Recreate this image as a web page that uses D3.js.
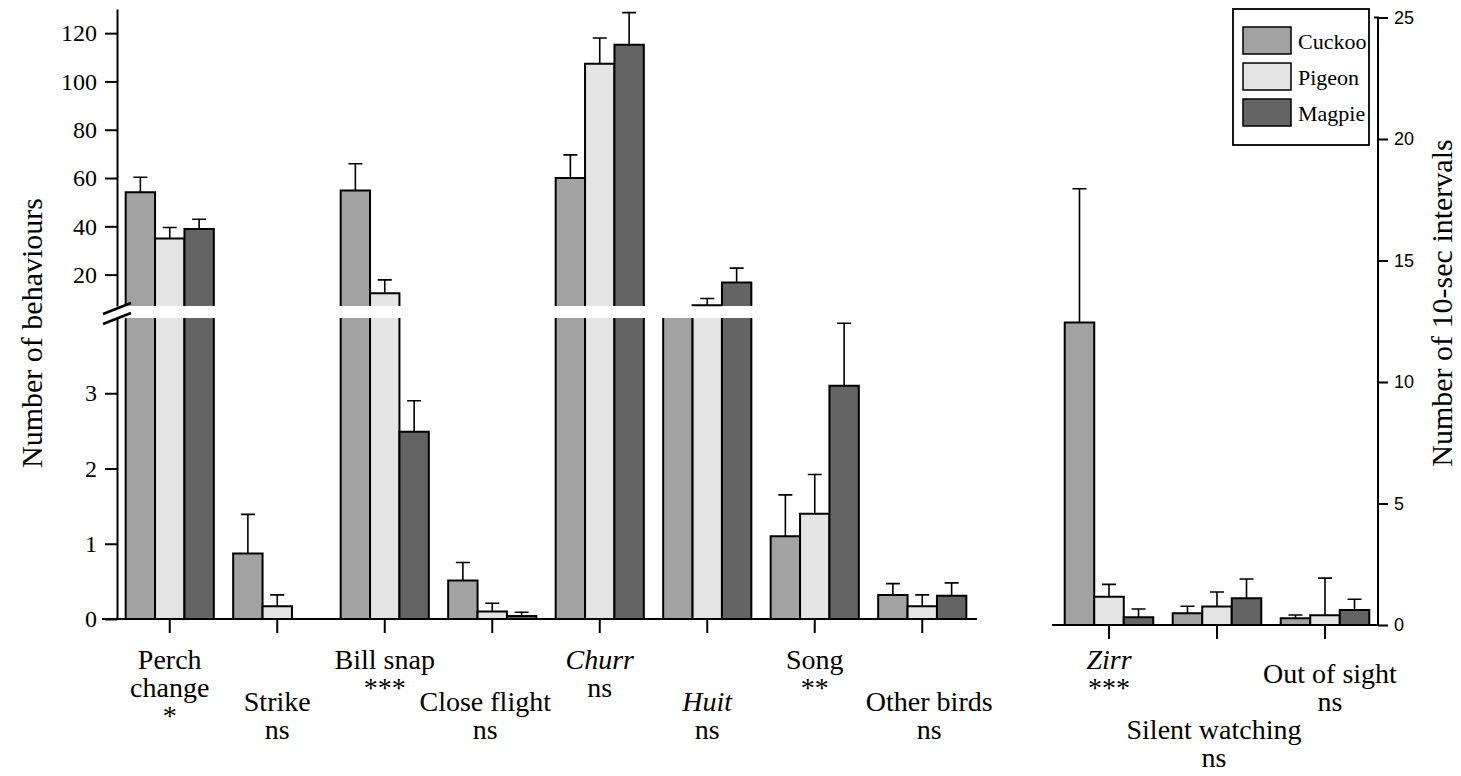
<!DOCTYPE html>
<html><head><meta charset="utf-8">
<script src="https://cdn.jsdelivr.net/npm/d3@7"></script>
<style>body{margin:0;background:#fff}svg{display:block}</style>
</head><body><svg id="c" width="1461" height="776"></svg>
<script>
// ---------------- data ----------------
const seriesNames = ["Cuckoo", "Pigeon", "Magpie"];
const categoriesLeft = ["Perch change", "Strike", "Bill snap", "Close flight", "Churr", "Huit", "Song", "Other birds"];
const categoriesRight = ["Zirr", "Silent watching", "Out of sight"];
const sigLeft = ["*", "ns", "***", "ns", "ns", "ns", "**", "ns"];
const sigRight = ["***", "ns", "ns"];

const cuckooLeft = [54.1, 0.87, 54.8, 0.51, 60.0, 6.0, 1.1, 0.32];
const cuckooLeftErr = [6.2, 0.52, 11.1, 0.24, 9.6, 0, 0.55, 0.15];
const pigeonLeft = [35.0, 0.17, 12.3, 0.1, 107.3, 7.3, 1.4, 0.17];
const pigeonLeftErr = [4.5, 0.15, 5.5, 0.11, 10.7, 2.8, 0.52, 0.15];
const magpieLeft = [38.9, 0, 2.49, 0.04, 115.2, 16.7, 3.1, 0.31];
const magpieLeftErr = [4.0, 0, 0.41, 0.05, 13.3, 6.0, 0.83, 0.17];

const cuckooRight = [12.45, 0.48, 0.28];
const cuckooRightErr = [5.5, 0.29, 0.13];
const pigeonRight = [1.16, 0.76, 0.4];
const pigeonRightErr = [0.51, 0.6, 1.53];
const magpieRight = [0.32, 1.1, 0.62];
const magpieRightErr = [0.34, 0.79, 0.44];

const leftTicksLow = [0, 1, 2, 3];
const leftTicksUp = [20, 40, 60, 80, 100, 120];
const rightTicks = [0, 5, 10, 15, 20, 25];
const yTitleLeft = "Number of behaviours";
const yTitleRight = "Number of 10-sec intervals";

// ---------------- layout / style ----------------
const serif = "'Liberation Serif','Times New Roman',serif";
const sans = "'Liberation Sans',Arial,sans-serif";
const fills = {Cuckoo: "#a2a2a2", Pigeon: "#e4e4e4", Magpie: "#646464"};
const italicCats = new Set(["Churr", "Huit", "Zirr"]);
const svg = d3.select("#c");

const xL = d3.scaleBand().domain(categoriesLeft).range([116, 976]).paddingInner(0.18).paddingOuter(0.09);
const xR = d3.scaleBand().domain(categoriesRight).range([1055, 1379]).paddingInner(0.18).paddingOuter(0.09);
const subL = d3.scaleBand().domain(seriesNames).range([0, xL.bandwidth()]);
const subR = d3.scaleBand().domain(seriesNames).range([0, xR.bandwidth()]);
const yLow = d3.scaleLinear().domain([0, 4]).range([619, 318]);
const yUp = d3.scaleLinear().domain([7, 130]).range([306, 9]);
const yR = d3.scaleLinear().domain([0, 25]).range([625, 17.5]);

const leftVals = [cuckooLeft, pigeonLeft, magpieLeft];
const leftErrs = [cuckooLeftErr, pigeonLeftErr, magpieLeftErr];
const rightVals = [cuckooRight, pigeonRight, magpieRight];
const rightErrs = [cuckooRightErr, pigeonRightErr, magpieRightErr];

const barsG = svg.append("g");

function drawBar(x, w, pieces, fill) {
  pieces.forEach(p => {
    barsG.append("rect").attr("x", x).attr("y", p.top).attr("width", w).attr("height", p.bottom - p.top)
      .attr("fill", fill);
    const path = p.hasTop
      ? `M${x},${p.bottom}V${p.top}H${x + w}V${p.bottom}`
      : `M${x},${p.bottom}V${p.top}M${x + w},${p.top}V${p.bottom}`;
    barsG.append("path").attr("d", path).attr("fill", "none").attr("stroke", "#000").attr("stroke-width", 2);
  });
}
function drawErr(cx, y0, y1) {
  barsG.append("path").attr("d", `M${cx},${y0}V${y1}M${cx - 7},${y1}H${cx + 7}`)
    .attr("fill", "none").attr("stroke", "#000").attr("stroke-width", 1.6);
}

// left panel bars (broken axis)
categoriesLeft.forEach((c, i) => {
  seriesNames.forEach((s, j) => {
    const v = leftVals[j][i], e = leftErrs[j][i];
    if (v <= 0) return;
    const x = xL(c) + subL(s), w = subL.bandwidth();
    const pieces = [];
    if (v <= 4) pieces.push({top: yLow(v), bottom: yLow(0), hasTop: true});
    else pieces.push({top: yLow(4), bottom: yLow(0), hasTop: false});
    if (v > 7) pieces.push({top: yUp(v), bottom: yUp(7), hasTop: true});
    drawBar(x, w, pieces, fills[s]);
    if (e > 0) {
      if (v > 7) drawErr(x + w / 2, yUp(v), yUp(v + e));
      else if (v + e <= 4) drawErr(x + w / 2, yLow(v), yLow(v + e));
    }
  });
});
// right panel bars
categoriesRight.forEach((c, i) => {
  seriesNames.forEach((s, j) => {
    const v = rightVals[j][i], e = rightErrs[j][i];
    const x = xR(c) + subR(s), w = subR.bandwidth();
    drawBar(x, w, [{top: yR(v), bottom: yR(0), hasTop: true}], fills[s]);
    drawErr(x + w / 2, yR(v), yR(v + e));
  });
});

// ---------------- axes ----------------
function styleAxis(g, font, size) {
  g.selectAll("path,line").attr("stroke", "#000").attr("stroke-width", 2);
  g.selectAll("text").attr("font-family", font).attr("font-size", size).attr("fill", "#000");
}
const axUp = svg.append("g").attr("transform", "translate(117,0)")
  .call(d3.axisLeft(yUp).tickValues(leftTicksUp).tickFormat(d3.format("d")).tickSize(12).tickSizeOuter(0).tickPadding(8));
styleAxis(axUp, serif, 24);
const axLow = svg.append("g").attr("transform", "translate(117,0)")
  .call(d3.axisLeft(yLow).tickValues(leftTicksLow).tickFormat(d3.format("d")).tickSize(12).tickSizeOuter(0).tickPadding(8));
styleAxis(axLow, serif, 24);

// x axes
const axXL = svg.append("g").attr("transform", `translate(0,${yLow(0)})`)
  .call(d3.axisBottom(xL).tickSize(14).tickSizeOuter(0).tickFormat(""));
axXL.select(".domain").attr("d", `M102,0H977`);
styleAxis(axXL, serif, 24);
const axXR = svg.append("g").attr("transform", `translate(0,${yR(0)})`)
  .call(d3.axisBottom(xR).tickSize(14).tickSizeOuter(0).tickFormat(""));
axXR.select(".domain").attr("d", `M1052,0H1379`);
styleAxis(axXR, serif, 24);

// right y axis
const axR = svg.append("g").attr("transform", "translate(1378,0)")
  .call(d3.axisRight(yR).tickValues(rightTicks).tickSize(10).tickSizeOuter(0).tickPadding(6));
styleAxis(axR, sans, 18);
axR.select(".domain").attr("d", `M-4,${yR(25)}H0V${yR(0)}`);

// axis break marks
svg.append("path").attr("d", "M103,314L131,303M103,324L131,313")
  .attr("stroke", "#000").attr("stroke-width", 2.5).attr("fill", "none");

// ---------------- category labels ----------------
const rowBase = 669, lineH = 28;
const leftRows = [0, 1.5, 0, 1.5, 0, 1.5, 0, 1.5];
const leftDx = [0, 0, 0, -7, 0, 0, 0, 7];
const rightRows = [0, 2.5, 0.5];
const rightDx = [0, -3, 5];
function catLabel(cx, name, sig, row, dx) {
  const t = svg.append("text").attr("text-anchor", "middle")
    .attr("font-family", serif).attr("font-size", 28).attr("fill", "#000");
  const lines = name === "Perch change" ? ["Perch", "change"] : [name];
  lines.concat([sig]).forEach((ln, k) => {
    t.append("tspan").attr("x", cx + dx).attr("y", rowBase + row * lineH + k * lineH)
      .attr("font-style", italicCats.has(ln) ? "italic" : null).text(ln);
  });
}
categoriesLeft.forEach((c, i) => catLabel(xL(c) + xL.bandwidth() / 2, c, sigLeft[i], leftRows[i], leftDx[i]));
categoriesRight.forEach((c, i) => catLabel(xR(c) + xR.bandwidth() / 2, c, sigRight[i], rightRows[i], rightDx[i]));

// ---------------- axis titles ----------------
svg.append("text").attr("transform", "translate(31,333) rotate(-90)").attr("dy", "0.35em")
  .attr("text-anchor", "middle").attr("font-family", serif).attr("font-size", 30).text(yTitleLeft);
svg.append("text").attr("transform", "translate(1441,303) rotate(-90)").attr("dy", "0.35em")
  .attr("text-anchor", "middle").attr("font-family", serif).attr("font-size", 30).text(yTitleRight);

// ---------------- legend ----------------
const lg = svg.append("g");
lg.append("rect").attr("x", 1233).attr("y", 9).attr("width", 136).attr("height", 136)
  .attr("fill", "#fff").attr("stroke", "#000").attr("stroke-width", 1.8);
seriesNames.forEach((s, i) => {
  lg.append("rect").attr("x", 1243).attr("y", 27 + i * 36).attr("width", 48).attr("height", 27)
    .attr("fill", fills[s]).attr("stroke", "#000").attr("stroke-width", 1.5);
  lg.append("text").attr("x", 1298).attr("y", 49 + i * 36).attr("font-family", serif)
    .attr("font-size", 22).text(s);
});
</script></body></html>
